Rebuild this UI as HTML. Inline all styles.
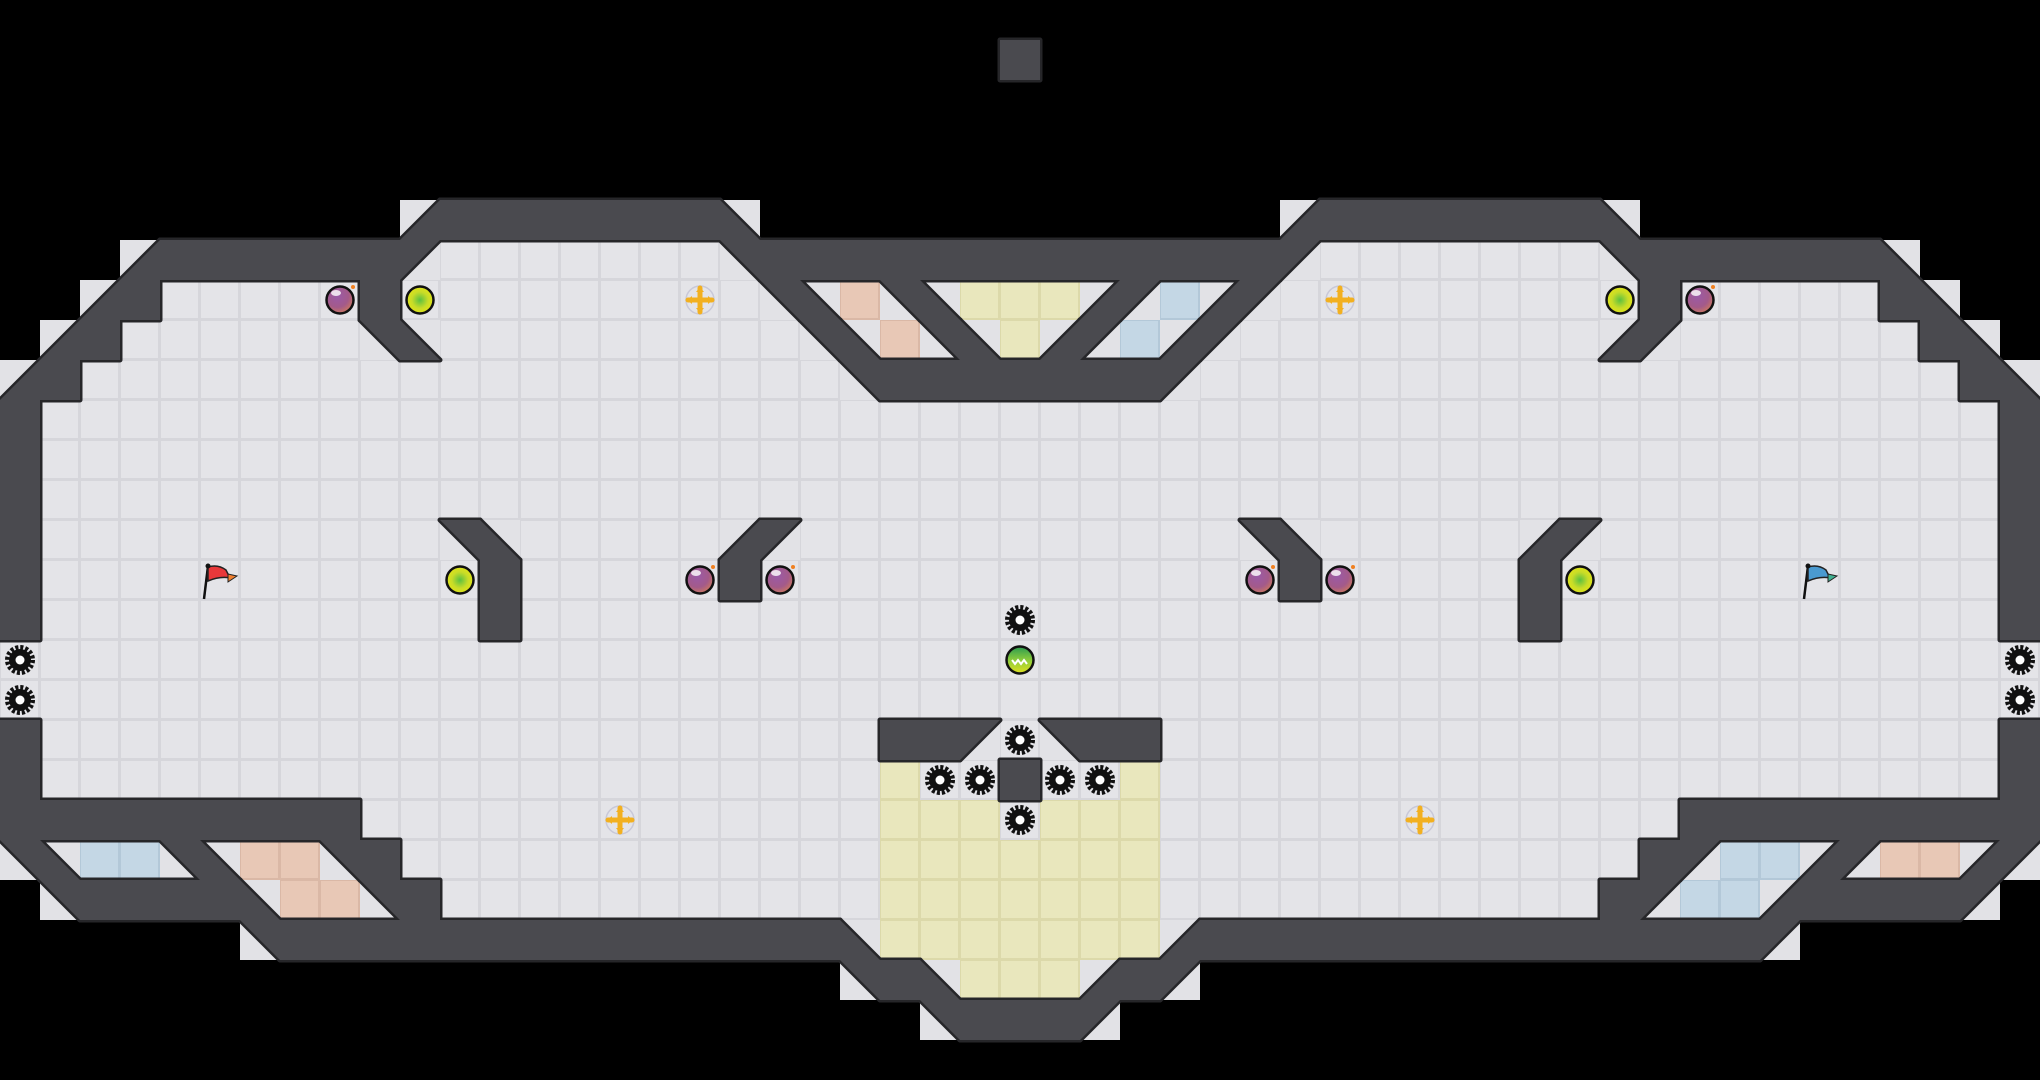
<!DOCTYPE html>
<html><head><meta charset="utf-8"><style>
html,body{margin:0;padding:0;background:#000;width:2040px;height:1080px;overflow:hidden}
svg{display:block}
</style></head><body>
<svg id="m" xmlns="http://www.w3.org/2000/svg" width="2040" height="1080" viewBox="0 0 2040 1080">
<defs>
<radialGradient id="bomb" cx="0.4" cy="0.35" r="0.7"><stop offset="0" stop-color="#9a5aa8"/><stop offset="0.6" stop-color="#a35a8a"/><stop offset="1" stop-color="#d07a5a"/></radialGradient>
<radialGradient id="yb" cx="0.5" cy="0.5" r="0.5"><stop offset="0" stop-color="#5cc040"/><stop offset="0.6" stop-color="#c8dc28"/><stop offset="1" stop-color="#e0e418"/></radialGradient>
<linearGradient id="gb" x1="0" y1="0" x2="0" y2="1"><stop offset="0" stop-color="#2a9a50"/><stop offset="0.5" stop-color="#8ccc3c"/><stop offset="1" stop-color="#e0e020"/></linearGradient>
</defs>
<rect width="2040" height="1080" fill="#000"/>
<g id="floor"></g><g id="wallS"></g><g id="wallF"></g><g id="items"></g>
</svg>
<script>
var L=[
"                          ",
"                         #",
"                          ",
"                          ",
"                          ",
"          d#######c       ",
"   d######a.......b#######",
"  d#.....#.........bcrbcyy",
" d#......bc.........bcrbcy",
"d#...................b####",
"#.........................",
"#.........................",
"#.........................",
"#..........bc.....da......",
"#...........#.....#.......",
"#...........#.............",
"..........................",
"..........................",
"#.....................##a.",
"#.....................y..#",
"#########.............yyy.",
"bcuubcrrb#............yyyy",
" b####crrb#...........yyyy",
"      b##############cyyyy",
"                     b#cyy",
"                       b##",
"                          "];
var mir={a:'b',b:'a',c:'d',d:'c'};
var G=[];
for(var r=0;r<27;r++){var s=L[r].split('');for(var c=26;c<=50;c++){var ch=L[r][50-c];s.push(mir[ch]||ch);}G.push(s);}
function setR(r,c0,str){for(var i=0;i<str.length;i++)G[r][c0+i]=str[i];}
setR(21,39,"..#auudarrda");
setR(22,39,".#auud####a ");
setR(23,30,"##############a      ");
G[7][29]='u';G[8][28]='u';
var NS="http://www.w3.org/2000/svg";
function el(t,a,p){var e=document.createElementNS(NS,t);for(var k in a)e.setAttribute(k,a[k]);p.appendChild(e);return e;}
var F=document.getElementById('floor'),WS=document.getElementById('wallS'),WF=document.getElementById('wallF'),IT=document.getElementById('items');
var fc={'.':'#e4e4e8','r':'#e8c8b6','y':'#e9e7bd','u':'#c4d7e5'};
var fe={'.':'#d6d6db','r':'#dab8a6','y':'#dcd9aa','u':'#b3c8d8'};
function tri(ch,x,y){var p;if(ch=='a')p=[x,y,x+40,y,x,y+40];else if(ch=='b')p=[x,y,x+40,y,x+40,y+40];else if(ch=='c')p=[x,y,x,y+40,x+40,y+40];else p=[x+40,y,x+40,y+40,x,y+40];return p.join(' ');}
for(var r=0;r<27;r++)for(var c=0;c<51;c++){var ch=G[r][c],x=c*40,y=r*40;
 if(fc[ch]){el('rect',{x:x,y:y,width:40,height:40,fill:fe[ch]},F);el('rect',{x:x+1,y:y+1,width:37,height:37,fill:fc[ch]},F);}
 else if(ch=='#'){el('rect',{x:x,y:y,width:40,height:40,fill:'#4a4a4f',stroke:'#262629','stroke-width':5,'stroke-linejoin':'round'},WS);el('rect',{x:x,y:y,width:40,height:40,fill:'#4a4a4f'},WF);}
 else if(mir[ch]){el('rect',{x:x,y:y,width:40,height:40,fill:'#e2e2e6'},F);var p=tri(ch,x,y);el('polygon',{points:p,fill:'#4a4a4f',stroke:'#262629','stroke-width':5,'stroke-linejoin':'round'},WS);el('polygon',{points:p,fill:'#4a4a4f'},WF);}
}
function ctr(c,r){return [c*40+20,r*40+20];}
function bomb(c,r){var p=ctr(c,r);el('circle',{cx:p[0],cy:p[1],r:13.5,fill:'url(#bomb)',stroke:'#111',"stroke-width":2.5},IT);el('ellipse',{cx:p[0]-4,cy:p[1]-7,rx:5,ry:3,fill:'#fff',opacity:0.8},IT);el('circle',{cx:p[0]+13,cy:p[1]-13,r:2,fill:'#f08020'},IT);}
function yball(c,r){var p=ctr(c,r);el('circle',{cx:p[0],cy:p[1],r:13.5,fill:'url(#yb)',stroke:'#111',"stroke-width":2.5},IT);}
function plus(c,r){var p=ctr(c,r),x=p[0],y=p[1];el('circle',{cx:x,cy:y,r:14,fill:'none',stroke:'#c8c8d8','stroke-width':1.5},IT);el('path',{d:'M'+(x-12)+' '+y+'H'+(x+12)+'M'+x+' '+(y-12)+'V'+(y+12),stroke:'#f2b020','stroke-width':5,'stroke-linecap':'round'},IT);el('path',{d:'M'+(x-13)+' '+y+'l5 -4v8zM'+(x+13)+' '+y+'l-5 -4v8zM'+x+' '+(y-13)+'l-4 5h8zM'+x+' '+(y+13)+'l-4 -5h8z',fill:'#f2b020'},IT);}
function gear(c,r){var p=ctr(c,r),x=p[0],y=p[1];el('circle',{cx:x,cy:y,r:11,fill:'#111'},IT);el('circle',{cx:x,cy:y,r:12.5,fill:'none',stroke:'#111','stroke-width':5,'stroke-dasharray':'3 1.9'},IT);el('circle',{cx:x,cy:y,r:4.5,fill:'#fff'},IT);}
function flag(c,r,col,col2){var x=c*40,y=r*40;el('path',{d:'M'+(x+4)+' '+(y+39)+'L'+(x+8)+' '+(y+6),stroke:'#111','stroke-width':2.5},IT);el('path',{d:'M'+(x+8)+' '+(y+7)+'q10 -3 18 3l4 8q-10 -2 -22 3z',fill:col,stroke:'#222','stroke-width':1.5},IT);el('path',{d:'M'+(x+28)+' '+(y+14)+'l9 2l-9 6z',fill:col2,stroke:'#222','stroke-width':1},IT);el('circle',{cx:x+8,cy:y+6,r:2.5,fill:'#111'},IT);}
[[8,7],[17,14],[19,14],[42,7],[33,14],[31,14]].forEach(function(a){bomb(a[0],a[1]);});
[[10,7],[11,14],[40,7],[39,14]].forEach(function(a){yball(a[0],a[1]);});
[[17,7],[15,20],[33,7],[35,20]].forEach(function(a){plus(a[0],a[1]);});
[[0,16],[0,17],[50,16],[50,17],[25,15],[25,18],[23,19],[24,19],[26,19],[27,19],[25,20]].forEach(function(a){gear(a[0],a[1]);});
flag(5,14,'#e8383a','#f08030');flag(45,14,'#4a9ad0','#40b090');
var g=ctr(25,16);el('circle',{cx:g[0],cy:g[1],r:13.5,fill:'url(#gb)',stroke:'#111','stroke-width':2.5},IT);
el('path',{d:'M'+(g[0]-8)+' '+(g[1])+'l3 4l3 -4l3 4l3 -4l3 4',stroke:'#fff','stroke-width':2,fill:'none'},IT);
</script>
</body></html>
